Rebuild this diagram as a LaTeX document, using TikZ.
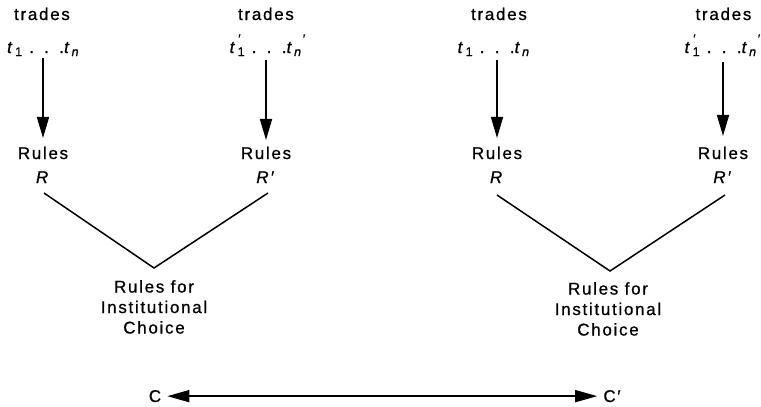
\documentclass[tikz,border=0pt]{standalone}
\usepackage{fontspec}
\setmainfont{Liberation Sans}[LetterSpace=10,FakeBold=0.8]
\usetikzlibrary{arrows.meta}
\newcommand{\subf}{\fontsize{12.5}{12.5}\selectfont}
\newcommand{\tone}[1]{\textit{t}\hspace{1pt}\makebox[0pt][l]{\raisebox{10pt}{\subf\textit{#1}}}\raisebox{-3pt}{\subf 1}}
\newcommand{\tenn}[1]{\textit{t}\hspace{0.5pt}\raisebox{-3pt}{\subf\textit{n}}\makebox[0pt][l]{\raisebox{10pt}{\subf\textit{#1}}}}
\newcommand{\tdots}{\hspace{9.5pt}\makebox[0pt]{.}\hspace{15pt}\makebox[0pt]{.}\hspace{15pt}\makebox[0pt]{.}\hspace{2.5pt}}
\begin{document}
\begin{tikzpicture}[x=1pt,y=-1pt,
  lbl/.style={inner sep=0pt, font=\fontsize{17}{20.5}\selectfont, align=center, anchor=base},
  mlbl/.style={inner sep=0pt, font=\fontsize{17}{20.5}\selectfont, align=center, anchor=north},
  arr/.style={-{Triangle[length=21pt,width=12pt]}, line width=1.6pt},
  vline/.style={line width=1.5pt}]
\useasboundingbox (0,0) rectangle (761,407);
% group 1
\node[lbl] (tr1) at (42,20) {trades};
\node[lbl] (t1) at (43.5,53) {\tone{}\tdots\tenn{}};
\node[lbl] (ru1) at (43,159) {Rules};
\node[lbl] (r1) at (43,183) {\textit{R}};
% group 2
\node[lbl] (tr2) at (266,20) {trades};
\node[lbl] (t2) at (266,53) {\tone{′}\tdots\tenn{′}};
\node[lbl] (ru2) at (266,159) {Rules};
\node[lbl] (r2) at (266,183) {\textit{R′}};
% group 3
\node[lbl] (tr3) at (499,20) {trades};
\node[lbl] (t3) at (494,53) {\tone{}\tdots\tenn{}};
\node[lbl] (ru3) at (497,159) {Rules};
\node[lbl] (r3) at (497,183) {\textit{R}};
% group 4
\node[lbl] (tr4) at (723.5,20) {trades};
\node[lbl] (t4) at (721,53) {\tone{′}\tdots\tenn{′}};
\node[lbl] (ru4) at (723,159) {Rules};
\node[lbl] (r4) at (723,183) {\textit{R′}};
% choice nodes
\node[mlbl] (ic1) at (154,280) {Rules for\\Institutional\\Choice};
\node[mlbl] (ic2) at (608,282) {Rules for\\Institutional\\Choice};
\node[lbl] (c) at (155,402) {C};
\node[lbl] (cp) at (612,402) {C′};
% V coordinates
\coordinate (a1) at (44,193);
\coordinate (v1) at (154,268);
\coordinate (b1) at (268,193);
\coordinate (a2) at (497,195);
\coordinate (v2) at (610,271);
\coordinate (b2) at (725,195);
% arrows
\draw[arr, shorten <=2pt, shorten >=8.5pt] (t1.south -| ru1.north) -- (ru1.north);
\draw[arr, shorten <=4pt, shorten >=6.5pt] (t2.south -| ru2.north) -- (ru2.north);
\draw[arr, shorten <=4pt, shorten >=8.5pt] (t3.south -| ru3.north) -- (ru3.north);
\draw[arr, shorten <=6pt, shorten >=10.5pt] (t4.south -| ru4.north) -- (ru4.north);
\draw[vline] (a1) -- (v1) -- (b1);
\draw[vline] (a2) -- (v2) -- (b2);
\draw[arr, {Triangle[length=22pt,width=12pt]}-{Triangle[length=22pt,width=12pt]}, shorten <=6pt, shorten >=6pt] (c.east) -- (cp.west);
\end{tikzpicture}
\end{document}
